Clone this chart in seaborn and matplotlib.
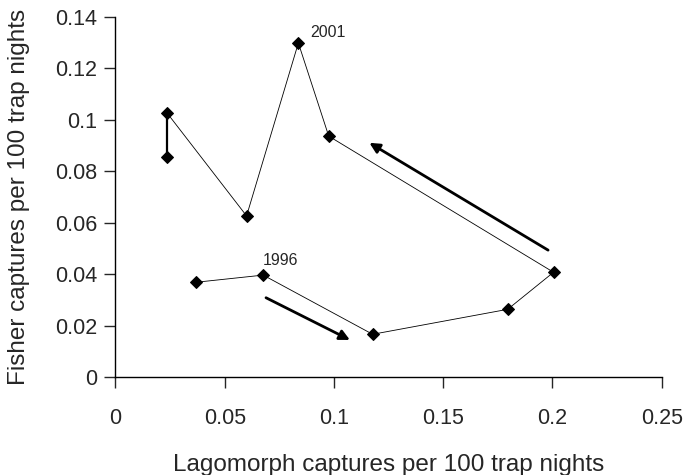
import numpy as np
import pandas as pd
import matplotlib
matplotlib.use("Agg")
import matplotlib.pyplot as plt
import seaborn as sns

# yearly path, 1995 -> 2004
years = [1995, 1996, 1997, 1998, 1999, 2000, 2001, 2002, 2003, 2004]
lagomorph = [0.0367, 0.0676, 0.1177, 0.1795, 0.2005, 0.0976, 0.0837, 0.060, 0.0236, 0.0236]
fisher = [0.0368, 0.0396, 0.0166, 0.0263, 0.0407, 0.0936, 0.1298, 0.0626, 0.1026, 0.0855]

x_ticks = [0, 0.05, 0.1, 0.15, 0.2, 0.25]
x_labels = ["0", "0.05", "0.1", "0.15", "0.2", "0.25"]
y_ticks = [0, 0.02, 0.04, 0.06, 0.08, 0.1, 0.12, 0.14]
y_labels = ["0", "0.02", "0.04", "0.06", "0.08", "0.1", "0.12", "0.14"]

# direction arrows (tail -> head)
arrow_tails = [(0.0689, 0.0308), (0.198, 0.0493)]
arrow_heads = [(0.1073, 0.0144), (0.1162, 0.0910)]

df = pd.DataFrame({"year": years, "lago": lagomorph, "fisher": fisher})

sns.set_style("ticks")
plt.rcParams["font.family"] = ["Liberation Sans", "DejaVu Sans"]

fig = plt.figure(figsize=(6.83, 4.75), dpi=100)
ax = fig.add_axes([0.1691, 0.2063, 0.7997, 0.7585])

sns.lineplot(data=df, x="lago", y="fisher", sort=False, estimator=None,
             color="black", lw=0.6, marker="D", markersize=6.3,
             markeredgecolor="black", ax=ax)
# last step drawn heavier
sns.lineplot(data=df.iloc[-2:], x="lago", y="fisher", sort=False, estimator=None,
             color="black", lw=1.6, ax=ax)

for (tx, ty), (hx, hy) in zip(arrow_tails, arrow_heads):
    ax.annotate("", xy=(hx, hy), xytext=(tx, ty),
                arrowprops=dict(arrowstyle="-|>", color="black", lw=2,
                                mutation_scale=15, shrinkA=0, shrinkB=0))

ax.text(0.0676, 0.0435, "1996", fontsize=11.5, ha="left", va="baseline")
ax.text(0.089, 0.1322, "2001", fontsize=11.5, ha="left", va="baseline")

ax.set_xlim(0, 0.25)
ax.set_ylim(0, 0.14)
ax.set_xticks(x_ticks)
ax.set_xticklabels(x_labels)
ax.set_yticks(y_ticks)
ax.set_yticklabels(y_labels)
ax.tick_params(direction="out", length=8, width=1, labelsize=15.5)
ax.tick_params(axis="y", pad=5)
ax.tick_params(axis="x", pad=14)
sns.despine(ax=ax)
for s in ["left", "bottom"]:
    ax.spines[s].set_linewidth(1)
    ax.spines[s].set_color("black")

ax.set_xlabel("Lagomorph captures per 100 trap nights", fontsize=17.5, labelpad=18)
ax.set_ylabel("Fisher captures per 100 trap nights", fontsize=17.5, labelpad=18)

fig.savefig("out.png", dpi=100)
